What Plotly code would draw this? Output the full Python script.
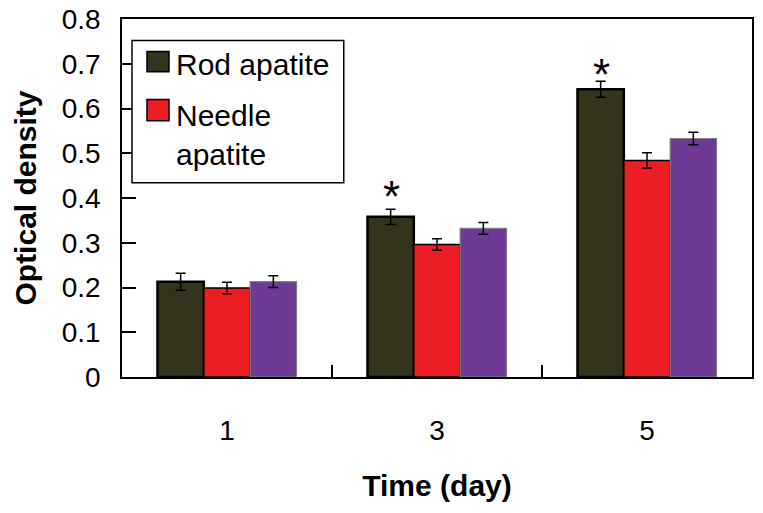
import plotly.graph_objects as go

days = ["1", "3", "5"]
series_names = ["Rod apatite", "Needle apatite", ""]
legend_labels = ["Rod apatite", "Needle<br>apatite"]
rod = [0.213, 0.358, 0.643]
rod_err = [0.019, 0.017, 0.018]
needle = [0.199, 0.296, 0.484]
needle_err = [0.013, 0.013, 0.017]
third = [0.213, 0.332, 0.533]
third_err = [0.013, 0.013, 0.014]
star_days = ["3", "5"]
star_values = [0.403, 0.676]

colors = ["#34331b", "#ec1d25", "#6e3a96"]
outline = ["#000000", "#000000", "#808080"]
outline_w = [2.5, 1.5, 1.2]

fig = go.Figure()
for name, vals, errs, c, oc, ow in zip(series_names, [rod, needle, third],
                                      [rod_err, needle_err, third_err],
                                      colors, outline, outline_w):
    fig.add_trace(go.Bar(
        x=days, y=vals, name=name, showlegend=False,
        marker=dict(color=c, line=dict(color=oc, width=ow)),
        error_y=dict(type="data", array=errs, visible=True,
                     color="black", thickness=1.5, width=5),
    ))

# asterisks above rod bars (offset to the first bar of the group)
for d, v in zip(star_days, star_values):
    fig.add_annotation(x=days.index(d), y=v, xref="x", yref="y", text="*",
                       showarrow=False, xshift=-46, yanchor="middle",
                       font=dict(family="Liberation Sans, Arial", size=44, color="black"))

# custom legend
fig.add_shape(type="rect", xref="paper", yref="paper",
              x0=0.0159, x1=0.352, y0=0.5427, y1=0.940,
              line=dict(color="black", width=1.5), fillcolor="white")
sw_y = [(0.853, 0.909), (0.716, 0.775)]
txt_y = [0.8727, 0.677]
for (y0, y1), ty, lab, c in zip(sw_y, txt_y, legend_labels, colors[:2]):
    fig.add_shape(type="rect", xref="paper", yref="paper",
                  x0=0.0397, x1=0.0746, y0=y0, y1=y1,
                  line=dict(color="black", width=1.5), fillcolor=c)
    fig.add_annotation(x=0.083, y=ty, xref="paper", yref="paper", text=lab,
                       showarrow=False, xanchor="left", yanchor="middle", align="left",
                       font=dict(family="Liberation Sans, Arial", size=30, color="black"))

fig.update_layout(
    width=763, height=513,
    margin=dict(l=122, r=11, t=19, b=136),
    paper_bgcolor="white", plot_bgcolor="white",
    barmode="group", bargap=0.338, bargroupgap=0,
    font=dict(family="Liberation Sans, Arial", color="black"),
    showlegend=False,
)
fig.update_xaxes(
    type="category", categoryorder="array", categoryarray=days,
    range=[-0.5, 2.5], automargin=False,
    showline=True, linecolor="black", linewidth=1.5, mirror=True,
    ticks="inside", tickson="boundaries", ticklen=12, tickcolor="black", tickwidth=1.5,
    tickfont=dict(size=28), ticklabelstandoff=28,
    title=dict(text="<b>Time (day)</b>", font=dict(size=30), standoff=30),
)
fig.update_yaxes(
    range=[0, 0.8], dtick=0.1, tick0=0, automargin=False,
    showline=True, linecolor="black", linewidth=1.5, mirror=True,
    ticks="inside", ticklen=14, tickcolor="black", tickwidth=1.5,
    showgrid=False, zeroline=False,
    tickfont=dict(size=28), ticklabelstandoff=14,
    title=dict(text="<b>Optical density</b>", font=dict(size=30), standoff=16),
)

fig.write_html("out.html", config={"displayModeBar": False},
               post_script="document.body.style.margin='0';document.body.style.overflow='hidden';")
